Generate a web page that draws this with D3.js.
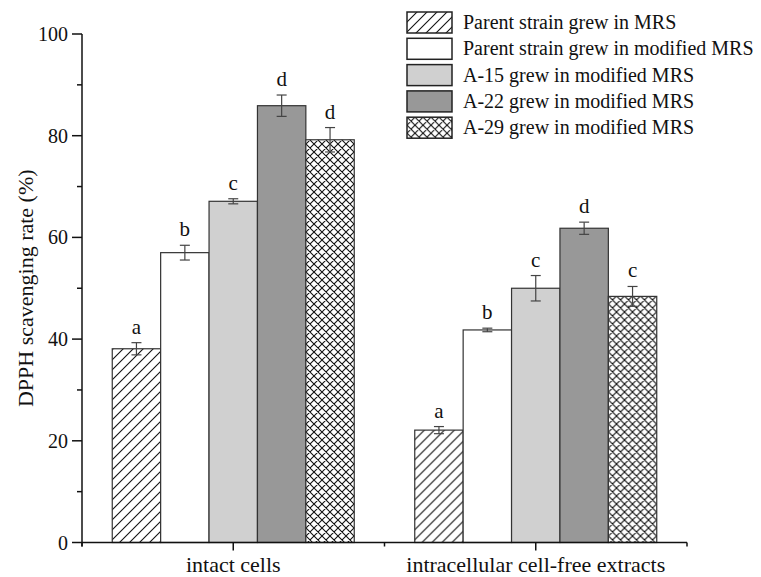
<!DOCTYPE html>
<meta charset="utf-8">
<style>
    body { margin: 0; background: #fff; }
    text { font-family: "Liberation Serif", "Times New Roman", serif; fill: #111; }
    .axis path, .axis line { stroke: #111; stroke-width: 1.5px; }
</style>
<svg width="761" height="577"></svg>
<script src="https://d3js.org/d3.v7.min.js"></script>
<script>

    var categories = ["intact cells", "intracellular cell-free extracts"];
    var seriesNames = [
        "Parent strain grew in MRS",
        "Parent strain grew in modified MRS",
        "A-15 grew in modified MRS",
        "A-22 grew in modified MRS",
        "A-29 grew in modified MRS"
    ];
    // values per series: [intact cells, cell-free extracts]
    var values = [
        [38.1, 22.1],
        [57.0, 41.8],
        [67.1, 50.0],
        [85.9, 61.8],
        [79.2, 48.4]
    ];
    var errors = [
        [1.2, 0.7],
        [1.45, 0.35],
        [0.5, 2.5],
        [2.1, 1.2],
        [2.4, 1.95]
    ];
    var letters = [
        ["a", "a"],
        ["b", "b"],
        ["c", "c"],
        ["d", "d"],
        ["d", "c"]
    ];
    var yTicks = [0, 20, 40, 60, 80, 100];

    var svg = d3.select("svg");
    var margin = {left: 82, right: 74, top: 34, bottom: 34};
    var width = 761, height = 577;

    var defs = svg.append("defs");
    defs.append("pattern")
            .attr("id", "diag")
            .attr("patternUnits", "userSpaceOnUse")
            .attr("width", 10).attr("height", 10)
            .append("path")
            .attr("d", "M0,10 L10,0 M-2,2 L2,-2 M8,12 L12,8")
            .attr("stroke", "#111").attr("stroke-width", 1.1);
    var cross = defs.append("pattern")
            .attr("id", "cross")
            .attr("patternUnits", "userSpaceOnUse")
            .attr("width", 8).attr("height", 8);
    cross.append("rect").attr("width", 8).attr("height", 8).attr("fill", "#fff");
    cross.append("path")
            .attr("d", "M0,8 L8,0 M-2,2 L2,-2 M6,10 L10,6 M0,0 L8,8 M-2,6 L2,10 M6,-2 L10,2")
            .attr("stroke", "#111").attr("stroke-width", 1.1);

    var fills = ["url(#diag)", "#ffffff", "#d0d0d0", "#989898", "url(#cross)"];

    var x0 = d3.scaleBand()
            .domain(categories)
            .range([margin.left, width - margin.right])
            .padding(0);

    var x1 = d3.scaleBand()
            .domain(d3.range(seriesNames.length))
            .range([0, x0.bandwidth()])
            .paddingOuter(0.625)
            .paddingInner(0);

    var y = d3.scaleLinear()
            .domain([0, 100])
            .range([height - margin.bottom - 0.5, margin.top]);

    // y axis
    var yAxis = svg.append("g")
            .attr("class", "axis")
            .attr("transform", "translate(" + margin.left + ",0)");
    yAxis.append("line")
            .attr("y1", y(100)).attr("y2", y(0) + 4);
    yAxis.selectAll(".major")
            .data(yTicks)
            .enter().append("line")
            .attr("x1", -10).attr("x2", 0)
            .attr("y1", function(d) { return y(d); })
            .attr("y2", function(d) { return y(d); });
    yAxis.selectAll(".minor")
            .data(d3.range(10, 100, 20))
            .enter().append("line")
            .attr("x1", -5).attr("x2", 0)
            .attr("y1", function(d) { return y(d); })
            .attr("y2", function(d) { return y(d); });
    yAxis.selectAll("text")
            .data(yTicks)
            .enter().append("text")
            .attr("x", -14)
            .attr("y", function(d) { return y(d); })
            .attr("dy", "0.35em")
            .attr("text-anchor", "end")
            .style("font-size", "20px")
            .text(function(d) { return d; });

    svg.append("text")
            .attr("transform", "translate(25," + y(50) + ") rotate(-90)")
            .attr("text-anchor", "middle")
            .attr("dy", "0.35em")
            .style("font-size", "22px")
            .text("DPPH scavenging rate (%)");

    // bars
    var group = svg.selectAll(".group")
            .data(categories)
            .enter().append("g")
            .attr("transform", function(d) { return "translate(" + x0(d) + ",0)"; });

    group.each(function(cat, ci) {
        var g = d3.select(this);
        var rows = seriesNames.map(function(s, si) {
            return {si: si, v: values[si][ci], e: errors[si][ci], l: letters[si][ci]};
        });
        g.selectAll("rect")
                .data(rows)
                .enter().append("rect")
                .attr("x", function(d) { return x1(d.si); })
                .attr("width", x1.bandwidth())
                .attr("y", function(d) { return y(d.v); })
                .attr("height", function(d) { return y(0) - y(d.v); })
                .attr("fill", function(d) { return fills[d.si]; })
                .attr("stroke", "#333")
                .attr("stroke-width", 1.2);

        var eb = g.selectAll(".err")
                .data(rows)
                .enter().append("g")
                .attr("stroke", "#444")
                .attr("stroke-width", 1.2);
        eb.append("line")
                .attr("x1", function(d) { return x1(d.si) + x1.bandwidth() / 2; })
                .attr("x2", function(d) { return x1(d.si) + x1.bandwidth() / 2; })
                .attr("y1", function(d) { return y(d.v + d.e); })
                .attr("y2", function(d) { return y(d.v - d.e); });
        [1, -1].forEach(function(sgn) {
            eb.append("line")
                    .attr("x1", function(d) { return x1(d.si) + x1.bandwidth() / 2 - 5; })
                    .attr("x2", function(d) { return x1(d.si) + x1.bandwidth() / 2 + 5; })
                    .attr("y1", function(d) { return y(d.v + sgn * d.e); })
                    .attr("y2", function(d) { return y(d.v + sgn * d.e); });
        });

        g.selectAll(".lab")
                .data(rows)
                .enter().append("text")
                .attr("x", function(d) { return x1(d.si) + x1.bandwidth() / 2; })
                .attr("y", function(d) { return y(d.v + d.e) - 9; })
                .attr("text-anchor", "middle")
                .style("font-size", "21px")
                .text(function(d) { return d.l; });
    });

    // x axis
    var xAxis = svg.append("g")
            .attr("class", "axis")
            .attr("transform", "translate(0," + y(0) + ")");
    xAxis.append("line")
            .attr("x1", margin.left).attr("x2", width - margin.right);
    xAxis.selectAll(".major")
            .data(categories)
            .enter().append("line")
            .attr("x1", function(d) { return x0(d) + x0.bandwidth() / 2; })
            .attr("x2", function(d) { return x0(d) + x0.bandwidth() / 2; })
            .attr("y1", 0).attr("y2", 8);
    xAxis.selectAll(".minor")
            .data(d3.range(categories.length + 1))
            .enter().append("line")
            .attr("x1", function(i) { return margin.left + i * x0.bandwidth(); })
            .attr("x2", function(i) { return margin.left + i * x0.bandwidth(); })
            .attr("y1", 0).attr("y2", 4);
    xAxis.selectAll("text")
            .data(categories)
            .enter().append("text")
            .attr("x", function(d) { return x0(d) + x0.bandwidth() / 2; })
            .attr("y", 29)
            .attr("text-anchor", "middle")
            .style("font-size", "22px")
            .text(function(d) { return d; });

    // legend
    var legend = svg.append("g")
            .attr("transform", "translate(407,12)");
    var item = legend.selectAll("g")
            .data(seriesNames)
            .enter().append("g")
            .attr("transform", function(d, i) { return "translate(0," + (i * 26.3) + ")"; });
    item.append("rect")
            .attr("width", 45).attr("height", 21)
            .attr("fill", function(d, i) { return fills[i]; })
            .attr("stroke", "#222")
            .attr("stroke-width", 1.5);
    item.append("text")
            .attr("x", 56)
            .attr("y", 17)
            .style("font-size", "20px")
            .text(function(d) { return d; });

</script>
